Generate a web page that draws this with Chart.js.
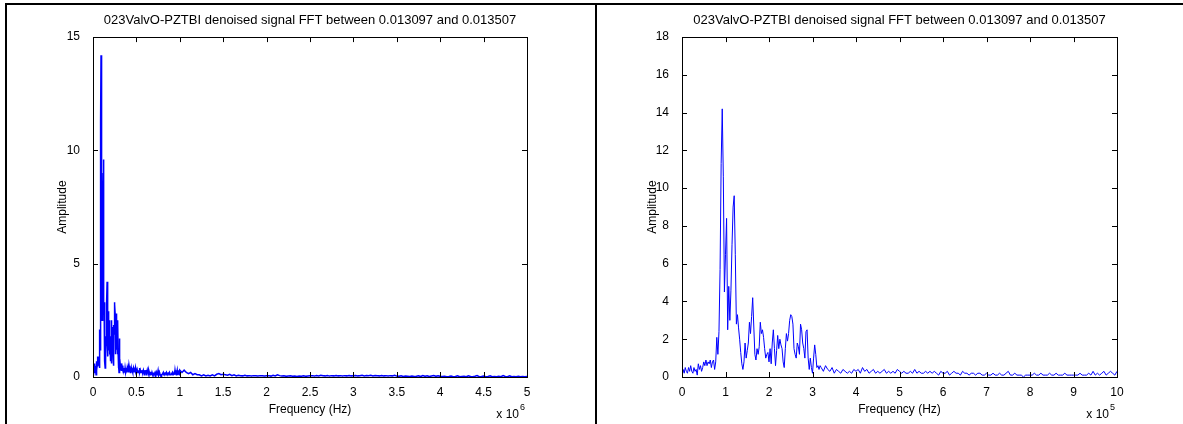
<!DOCTYPE html>
<html>
<head>
<meta charset="utf-8">
<script src="https://cdn.jsdelivr.net/npm/chart.js@4.4.0/dist/chart.umd.min.js"></script>
<style>
  body { margin: 0; background: #fff; width: 1183px; height: 424px; overflow: hidden; position: relative; }
  .line { position: absolute; background: #000; }
  canvas { position: absolute; }
</style>
</head>
<body>
<div class="line" style="left:5px;top:3px;width:1178px;height:2px"></div>
<div class="line" style="left:5px;top:3px;width:2px;height:421px"></div>
<div class="line" style="left:595px;top:3px;width:2px;height:421px"></div>
<canvas id="fullChart" width="588" height="419" style="left:7px;top:5px"></canvas>
<canvas id="zoomChart" width="586" height="419" style="left:597px;top:5px"></canvas>
<script>
const titleText = '023ValvO-PZTBI denoised signal FFT between 0.013097 and 0.013507';

// spectrum 0 - 317.5 kHz, one value every 2.5 kHz
const peakStart = 0, peakStep = 2.5;
const peakAmps = [
    0.1,0.4,0.2,0.5,0.3,0.2,0.5,0.3,0.6,0.3,0.2,0.5,0.3,0.4,0.1,0.7,
    0.4,0.6,0.3,0.5,0.8,0.6,0.9,0.6,0.8,0.7,0.9,0.5,0.8,0.9,0.4,0.8,
    2.1,1.2,2.4,5.7,11.3,14.2,10.6,4.5,6.5,8.4,2.5,4.8,3.0,4.6,7.0,9.0,
    9.6,6.5,2.8,3.3,2.6,2.0,1.3,0.7,0.4,0.8,1.8,1.0,1.4,1.8,2.9,2.3,
    3.2,4.2,2.7,1.2,0.9,1.5,1.2,1.6,2.9,2.3,2.5,2.1,1.5,1.0,1.2,1.3,
    0.8,1.5,0.7,1.8,2.5,1.5,0.6,1.4,2.2,1.5,2.0,1.7,1.5,0.8,0.5,1.5,
    2.3,1.9,2.3,3.0,3.3,3.2,2.8,1.5,1.2,1.0,1.8,1.6,1.2,2.8,2.5,1.8,
    1.5,1.0,2.4,2.5,1.0,0.4,1.0,0.5,0.2,1.0,1.7,1.2,0.5,0.6,0.4,0.6
];

// 320 - 1000 kHz, every 5 kHz
const noiseStart = 320, noiseStep = 5;
const noiseAmps = [
    0.5,0.3,0.6,0.4,0.3,0.5,0.2,0.4,0.3,0.2,0.4,0.3,0.2,0.3,0.2,0.4,0.3,
    0.4,0.2,0.5,0.3,0.4,0.2,0.3,0.4,0.2,0.3,0.2,0.3,0.4,0.2,0.3,0.2,0.3,0.2,0.4,0.3,
    0.2,0.3,0.2,0.2,0.3,0.2,0.4,0.2,0.3,0.2,0.2,0.3,0.2,0.3,0.2,0.3,0.2,0.1,0.3,0.2,
    0.2,0.3,0.1,0.2,0.3,0.2,0.2,0.1,0.3,0.2,0.2,0.1,0.2,0.2,0.1,0.2,0.2,0.1,0.1,0.2,
    0.1,0.1,0.2,0.1,0.1,0.2,0.1,0.1,0.2,0.3,0.1,0.1,0.2,0.1,0.1,0.1,0.0,0.1,0.1,0.1,
    0.1,0.2,0.1,0.1,0.2,0.1,0.1,0.1,0.2,0.1,0.1,0.2,0.1,0.1,0.1,0.2,0.1,0.1,0.1,0.1,
    0.1,0.1,0.2,0.1,0.1,0.1,0.2,0.1,0.3,0.1,0.2,0.1,0.2,0.3,0.1,0.2,0.3,0.2,0.1,0.3
];

// 1025 - 5000 kHz, every 25 kHz
const tailStart = 1025, tailStep = 25;
const tailAmps = [
    0.2,0.3,0.2,0.15,0.2,0.1,0.15,0.1,0.1,0.05,0.1,0.05,0.08,0.05,0.1,0.05,0.12,0.15,0.1,0.12,
    0.1,0.08,0.12,0.06,0.1,0.05,0.08,0.06,0.05,0.08,0.05,0.06,0.04,0.06,0.05,0.04,0.06,0.05,0.04,0.05,
    0.06,0.04,0.08,0.05,0.1,0.06,0.04,0.05,0.03,0.04,0.05,0.03,0.04,0.02,0.04,0.03,0.05,0.03,0.04,0.05,
    0.06,0.04,0.07,0.05,0.08,0.06,0.05,0.07,0.04,0.06,0.05,0.07,0.05,0.06,0.04,0.06,0.05,0.07,0.05,0.06,
    0.07,0.05,0.06,0.08,0.05,0.07,0.06,0.08,0.05,0.07,0.06,0.05,0.07,0.05,0.06,0.04,0.06,0.05,0.08,0.04,
    0.03,0.05,0.02,0.04,0.03,0.02,0.04,0.02,0.03,0.05,0.02,0.06,0.03,0.05,0.02,0.04,0.06,0.03,0.05,0.03,
    0.02,0.03,0.01,0.02,0.04,0.01,0.02,0.05,0.01,0.02,0.03,0.01,0.05,0.02,0.01,0.03,0.06,0.01,0.02,0.04,
    0.01,0.02,0.05,0.01,0.02,0.01,0.03,0.01,0.06,0.02,0.01,0.05,0.01,0.02,0.01,0.03,0.01,0.02,0.01,0.02
];

function toPoints(start, step, amps) {
    return amps.map((a, i) => ({ x: (start + i * step) * 1000, y: a }))
}

const lowBand = toPoints(peakStart, peakStep, peakAmps).concat(toPoints(noiseStart, noiseStep, noiseAmps))
const fullBand = lowBand.concat(toPoints(tailStart, tailStep, tailAmps))

const font = { family: '"Liberation Sans", Arial, sans-serif', size: 12 }

// matlab style box, inward ticks and the "x 10^n" note
const matlabAxes = {
    id: 'matlabAxes',
    afterDraw(chart, args, opts) {
        const c = chart.ctx
        const a = chart.chartArea
        const xs = chart.scales.x, ys = chart.scales.y
        c.save()
        c.strokeStyle = '#000'
        c.lineWidth = 1
        c.beginPath()
        xs.ticks.forEach(t => {
            const p = Math.round(xs.getPixelForValue(t.value)) + 0.5
            c.moveTo(p, a.bottom); c.lineTo(p, a.bottom - 5)
            c.moveTo(p, a.top); c.lineTo(p, a.top + 5)
        })
        ys.ticks.forEach(t => {
            const p = Math.round(ys.getPixelForValue(t.value)) + 0.5
            c.moveTo(a.left, p); c.lineTo(a.left + 5, p)
            c.moveTo(a.right, p); c.lineTo(a.right - 5, p)
        })
        c.stroke()
        c.strokeRect(Math.round(a.left) + 0.5, Math.round(a.top) + 0.5, Math.round(a.right - a.left), Math.round(a.bottom - a.top))
        c.fillStyle = '#000'
        c.font = '12px "Liberation Sans", Arial, sans-serif'
        c.textBaseline = 'alphabetic'
        c.textAlign = 'right'
        c.fillText('x 10', a.right - 8, a.bottom + 41)
        c.font = '9px "Liberation Sans", Arial, sans-serif'
        c.textAlign = 'left'
        c.fillText(opts.exponent, a.right - 7, a.bottom + 33)
        c.restore()
    }
}

function makeChart(id, points, lineWidth, xMax, xStep, xDiv, yMax, yStep, yWidth, padRight, exponent) {
    return new Chart(document.getElementById(id), {
        type: 'line',
        data: {
            datasets: [{
                data: points,
                borderColor: '#0000ff',
                borderWidth: lineWidth,
                pointRadius: 0,
                tension: 0
            }]
        },
        options: {
            responsive: false,
            animation: false,
            layout: { padding: { left: 0, right: padRight, top: 0, bottom: 0 } },
            plugins: {
                legend: { display: false },
                tooltip: { enabled: false },
                title: {
                    display: true,
                    text: titleText,
                    fullSize: false,
                    color: '#000',
                    font: { family: font.family, size: 13, weight: 'normal' },
                    padding: { top: 8, bottom: 8.5 }
                },
                matlabAxes: { exponent: exponent }
            },
            scales: {
                x: {
                    type: 'linear',
                    min: 0,
                    max: xMax,
                    grid: { display: false },
                    border: { display: false },
                    ticks: {
                        stepSize: xStep,
                        color: '#000',
                        font: font,
                        padding: 0,
                        maxRotation: 0,
                        autoSkip: false,
                        callback: v => String(Number((v / xDiv).toFixed(1)))
                    },
                    title: { display: true, text: 'Frequency (Hz)', color: '#000', font: font, padding: { top: 0, bottom: 7 } },
                    afterFit: s => { s.height = 47 }
                },
                y: {
                    min: 0,
                    max: yMax,
                    grid: { display: false },
                    border: { display: false },
                    ticks: { stepSize: yStep, color: '#000', font: font, padding: 5 },
                    title: { display: true, text: 'Amplitude', color: '#000', font: font, padding: { top: 48, bottom: 0 } },
                    afterFit: s => { s.width = yWidth }
                }
            }
        },
        plugins: [matlabAxes]
    })
}

const fullChart = makeChart('fullChart', fullBand, 1.5, 5000000, 500000, 1e6, 15, 5, 86, 68, '6')
const zoomChart = makeChart('zoomChart', lowBand, 1, 1000000, 100000, 1e5, 18, 2, 85, 66, '5')
</script>
</body>
</html>
